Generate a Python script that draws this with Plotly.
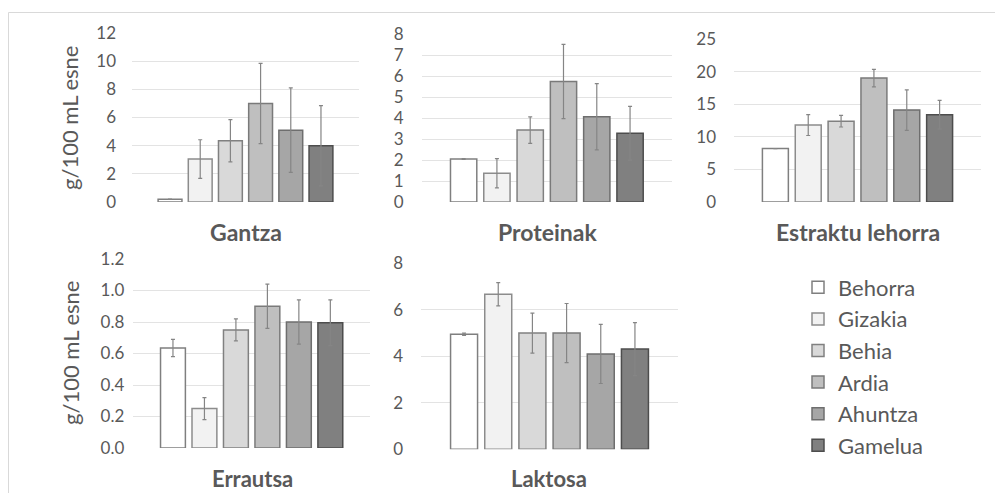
import plotly.graph_objects as go

# ---------------- data ----------------
species = ["Behorra", "Gizakia", "Behia", "Ardia", "Ahuntza", "Gamelua"]
fill_colors = ["#FFFFFF", "#F2F2F2", "#D9D9D9", "#BFBFBF", "#A6A6A6", "#808080"]
line_colors = ["#7F7F7F", "#8C8C8C", "#808080", "#7A7A7A", "#6E6E6E", "#4D4D4D"]

panel_titles = ["Gantza", "Proteinak", "Estraktu lehorra", "Errautsa", "Laktosa"]
y_title = "g/100 mL esne"

gantza = [0.2, 3.05, 4.35, 7.0, 5.1, 4.0]
gantza_err = [0.0, 1.37, 1.5, 2.85, 3.0, 2.85]
proteinak = [2.05, 1.37, 3.43, 5.75, 4.07, 3.28]
proteinak_err = [0.02, 0.7, 0.63, 1.77, 1.58, 1.28]
estraktu = [8.2, 11.8, 12.4, 19.0, 14.1, 13.4]
estraktu_err = [0.0, 1.6, 0.9, 1.35, 3.1, 2.2]
errautsa = [0.635, 0.25, 0.75, 0.90, 0.80, 0.795]
errautsa_err = [0.055, 0.07, 0.07, 0.14, 0.14, 0.145]
laktosa = [4.95, 6.67, 5.0, 5.0, 4.1, 4.31]
laktosa_err = [0.05, 0.5, 0.86, 1.27, 1.27, 1.14]

panel_values = [gantza, proteinak, estraktu, errautsa, laktosa]
panel_errors = [gantza_err, proteinak_err, estraktu_err, errautsa_err, laktosa_err]
y_ranges = [[0, 12], [0, 8], [0, 25], [0, 1.2], [0, 8]]
y_dticks = [2, 1, 5, 0.2, 2]
y_formats = ["d", "d", "d", ".1f", "d"]

# ---------------- layout geometry (page pixels) ----------------
PAGE_W, PAGE_H = 1003, 493
OFF = 8  # default page body margin
W, H = PAGE_W - OFF, PAGE_H - OFF
FONT = "Lato, 'Open Sans', sans-serif"
TXT = "#595959"
# (left, right, top, bottom) of each plot area, in page pixels
boxes = [
    (132, 359, 33, 202),
    (421.7, 672, 34.3, 202),
    (734, 981, 39, 202),
    (133.3, 370, 259, 448),
    (421, 678, 263.3, 449.3),
]
standoffs = [15, 17, 17, 8, 17]
title_pos = [(246, 232), (547.5, 232), (857.5, 232), (252.5, 478), (549, 478)]
title_sizes = [23, 23, 23, 22, 22]
ytitle_pos = [(70, 118), (70, 353)]


def px(x):
    return (x - OFF) / W


def py(y):
    return 1 - (y - OFF) / H


fig = go.Figure()

for p in range(5):
    ax = "" if p == 0 else str(p + 1)
    for i, sp in enumerate(species):
        fig.add_trace(go.Bar(
            x=[sp], y=[panel_values[p][i]],
            name=sp, legendgroup=sp, showlegend=(p == 0),
            width=0.79,
            marker=dict(color=fill_colors[i], line=dict(color=line_colors[i], width=1.5)),
            error_y=dict(type="data", array=[panel_errors[p][i]], visible=True,
                         color="#858585", thickness=1.2, width=2),
            xaxis="x" + ax, yaxis="y" + ax,
            hovertemplate=panel_titles[p] + "<br>%{x}: %{y}<extra></extra>",
        ))

layout = dict(
    width=W, height=H, autosize=False,
    margin=dict(l=0, r=0, t=0, b=0, pad=0, autoexpand=False),
    paper_bgcolor="white", plot_bgcolor="white",
    barmode="overlay",
    font=dict(family=FONT, color=TXT),
    showlegend=True,
    legend=dict(
        x=px(798), y=py(266.5), xanchor="left", yanchor="top",
        font=dict(size=22, color=TXT, family=FONT),
        traceorder="grouped", tracegroupgap=0,
        bgcolor="rgba(0,0,0,0)", itemwidth=30,
    ),
)

for p in range(5):
    l, r, t, b = boxes[p]
    key = "" if p == 0 else str(p + 1)
    layout["xaxis" + key] = dict(
        domain=[px(l), px(r)], anchor="y" + key,
        type="category", categoryorder="array", categoryarray=species,
        range=[-1.26, 6.26], showticklabels=False, showgrid=False,
        zeroline=False, showline=False, ticks="", fixedrange=True, automargin=False,
    )
    layout["yaxis" + key] = dict(
        domain=[py(b), py(t)], anchor="x" + key,
        range=y_ranges[p], dtick=y_dticks[p], tick0=0, tickformat=y_formats[p],
        showgrid=True, gridcolor="#E3E3E3", gridwidth=1,
        zeroline=False, showline=False, ticks="",
        ticklabelstandoff=standoffs[p], automargin=False,
        tickfont=dict(size=17, color=TXT, family=FONT), fixedrange=True,
    )

annotations = []
for p in range(5):
    x, y = title_pos[p]
    annotations.append(dict(
        x=px(x), y=py(y), xref="paper", yref="paper", showarrow=False,
        text="<b>" + panel_titles[p] + "</b>", xanchor="center", yanchor="middle",
        borderpad=0,
        font=dict(size=title_sizes[p], color=TXT, family=FONT),
    ))
for (x, y) in ytitle_pos:
    annotations.append(dict(
        x=px(x), y=py(y), xref="paper", yref="paper", showarrow=False,
        text=y_title, textangle=-90, xanchor="center", yanchor="middle",
        font=dict(size=22, color=TXT, family=FONT),
    ))
layout["annotations"] = annotations

layout["shapes"] = [
    dict(type="line", xref="paper", yref="paper", x0=px(8.5), x1=1.0, y0=py(12.5), y1=py(12.5),
         line=dict(color="#D9D9D9", width=1)),
    dict(type="line", xref="paper", yref="paper", x0=px(8.5), x1=px(8.5), y0=py(12.5), y1=0.0,
         line=dict(color="#D9D9D9", width=1)),
]

fig.update_layout(**layout)
fig.write_html("out.html")
